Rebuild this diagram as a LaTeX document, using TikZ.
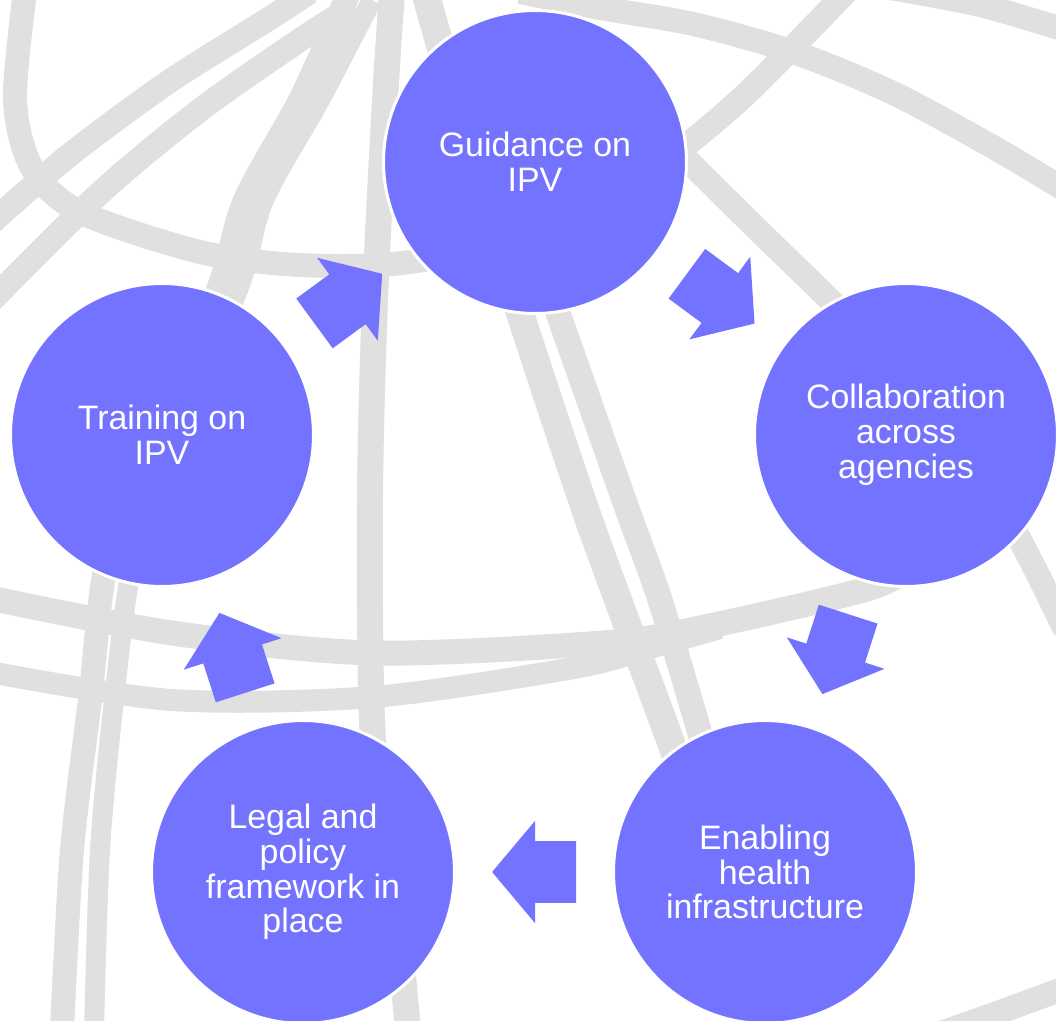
\documentclass[tikz,border=0pt]{standalone}
\usepackage{fontspec}
\setmainfont{Liberation Sans}
\usetikzlibrary{shapes.arrows}
\definecolor{stagefill}{RGB}{115,115,255}
\definecolor{globegrey}{RGB}{224,224,224}
\begin{document}
\begin{tikzpicture}[
    x=0.02cm, y=-0.02cm,
    band/.style={draw=globegrey, line width=0.48cm},
    stage/.style={circle, fill=stagefill, draw=white, line width=1.7pt, minimum size=6.06cm, inner sep=0pt, align=center, text=white, font=\fontsize{19.3}{19.8}\selectfont},
    cyc/.style={single arrow, fill=stagefill, minimum height=1.68cm, inner xsep=0pt, inner ysep=0.61cm, single arrow head extend=0.41cm, single arrow tip angle=100, anchor=tail, pos=0.228, sloped, allow upside down}
]
\useasboundingbox (0,0) rectangle (1056,1021);
\clip (0,0) rectangle (1056,1021);
\draw[band] plot[smooth] coordinates {(25,-8) (15,100) (32,168) (80,212) (200,252) (300,265) (410,262) (560,228) (660,165) (745,95) (848,-10)};
\draw[band] plot[smooth] coordinates {(-10,224) (67,157) (167,83) (267,20) (310,-8)};
\draw[band] plot[smooth] coordinates {(-10,302) (100,193) (200,110) (300,40) (355,5)};
\draw[band] plot[smooth] coordinates {(348,-5) (300,100) (245,200) (218,290) (150,450) (107,560) (90,700) (72,850) (62,1030)};
\draw[band, line width=0.4cm] plot[smooth] coordinates {(372,0) (320,100) (264,200) (238,290) (166,450) (132,565) (114,700) (100,850) (94,1030)};
\draw[band, line width=0.52cm] plot[smooth] coordinates {(392,-8) (385,100) (375,300) (370,500) (373,740) (395,900) (408,1030)};
\draw[band] plot[smooth] coordinates {(520,-8) (600,8) (693,24) (793,52) (893,93) (993,147) (1065,190)};
\draw[band, line width=0.56cm] plot[smooth] coordinates {(425,-8) (470,150) (520,313) (582,500) (618,600) (670,740) (700,830)};
\draw[band, line width=0.5cm] plot[smooth] coordinates {(500,150) (558,313) (624,500) (660,600) (702,740) (730,830)};
\draw[band, line width=0.5cm] plot[smooth] coordinates {(-10,598) (172,633) (373,653) (603,643) (700,628) (870,588) (920,560)};
\draw[band, line width=0.44cm] plot[smooth] coordinates {(-10,672) (172,700) (373,697) (574,668) (650,648) (720,628)};
\draw[band] plot[smooth] coordinates {(685,158) (760,232) (830,300) (950,420) (1020,540) (1065,630)};
\draw[band] plot[smooth] coordinates {(890,-12) (980,5) (1065,30)};
\draw[band] plot[smooth] coordinates {(935,1035) (1000,1012) (1065,988)};

\node[stage] (guid) at (535,162) {Guidance on\\IPV};
\node[stage] (collab) at (906,435) {Collaboration\\across\\agencies};
\node[stage] (infra) at (765,872) {Enabling\\health\\infrastructure};
\node[stage] (legal) at (303,872) {Legal and\\policy\\framework in\\place};
\node[stage] (train) at (162,435) {Training on\\IPV};

\path (guid) -- node[cyc] {} (collab);
\path (collab) -- node[cyc] {} (infra);
\path (infra) -- node[cyc] {} (legal);
\path (legal) -- node[cyc] {} (train);
\path (train) -- node[cyc] {} (guid);
\end{tikzpicture}
\end{document}
